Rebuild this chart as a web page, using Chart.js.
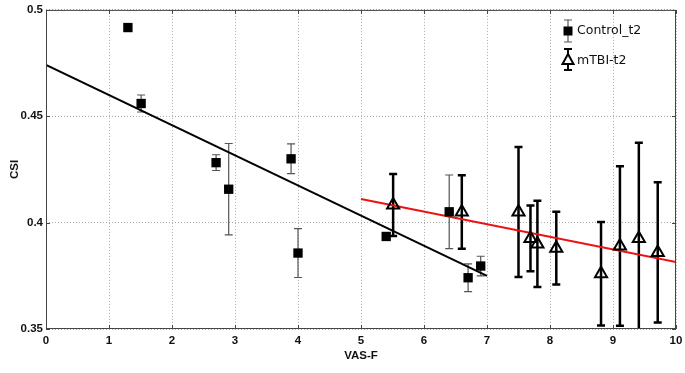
<!DOCTYPE html>
<html>
<head>
<meta charset="utf-8">
<script src="https://cdn.jsdelivr.net/npm/chart.js@4"></script>
<style>
  html, body { margin: 0; padding: 0; background: #fff; }
  #wrap { width: 685px; height: 373px; }
</style>
</head>
<body>
<div id="wrap"><canvas id="csiChart" width="685" height="373"></canvas></div>
<script>
// Control_t2 (filled squares, thin gray error bars)
const controlX = [1.30, 1.51, 2.70, 2.90, 3.89, 4.00, 5.40, 6.40, 6.70, 6.90];
const controlY = [0.4917, 0.456, 0.4282, 0.4157, 0.430, 0.3857, 0.3935, 0.4051, 0.3741, 0.3796];
const controlErr = [0, 0.004, 0.0037, 0.0215, 0.007, 0.0115, 0, 0.0173, 0.0065, 0.0046];

// mTBI-t2 (open triangles, thick black error bars)
const mtbiX = [5.51, 6.60, 7.50, 7.69, 7.80, 8.10, 8.81, 9.11, 9.41, 9.71];
const mtbiY = [0.4083, 0.405, 0.405, 0.3926, 0.390, 0.388, 0.376, 0.389, 0.3926, 0.386];
const mtbiErr = [0.0146, 0.0173, 0.0305, 0.0155, 0.0203, 0.0171, 0.0243, 0.0375, 0.045, 0.033];

// fitted lines (end points)
const controlFitX = [0, 7];
const controlFitY = [0.4741, 0.375];
const mtbiFitX = [5, 10];
const mtbiFitY = [0.4111, 0.3815];

const xTicks = [0, 1, 2, 3, 4, 5, 6, 7, 8, 9, 10];
const yTicks = [0.35, 0.4, 0.45, 0.5];
const yTickLabels = ["0.35", "0.4", "0.45", "0.5"];

function toPoints(xs, ys) {
  return xs.map((x, i) => ({ x: x, y: ys[i] }));
}

const tickFont = { family: "'Liberation Sans', Arial, sans-serif", size: 11.5, weight: "bold" };

// error bars, frame, small tick marks and legend
const errorBarPlugin = {
  id: "errorBars",
  beforeDatasetsDraw(chart) {
    const ctx = chart.ctx;
    const xs = chart.scales.x;
    const ys = chart.scales.y;
    const area = chart.chartArea;
    ctx.save();
    ctx.beginPath();
    ctx.rect(area.left, area.top, area.right - area.left, area.bottom - area.top);
    ctx.clip();

    function bars(xv, yv, ev, color, width, cap) {
      ctx.strokeStyle = color;
      ctx.lineWidth = width;
      xv.forEach((x, i) => {
        if (!ev[i]) return;
        const px = xs.getPixelForValue(x);
        const top = ys.getPixelForValue(yv[i] + ev[i]);
        const bot = ys.getPixelForValue(yv[i] - ev[i]);
        ctx.beginPath();
        ctx.moveTo(px, top); ctx.lineTo(px, bot);
        ctx.moveTo(px - cap, top); ctx.lineTo(px + cap, top);
        ctx.moveTo(px - cap, bot); ctx.lineTo(px + cap, bot);
        ctx.stroke();
      });
    }
    bars(controlX, controlY, controlErr, "#555", 1.2, 4);
    bars(mtbiX, mtbiY, mtbiErr, "#000", 2.5, 4);
    ctx.restore();
  },
  afterDraw(chart) {
    const ctx = chart.ctx;
    const area = chart.chartArea;
    const xs = chart.scales.x;
    const ys = chart.scales.y;
    ctx.save();
    // frame
    ctx.strokeStyle = "#444";
    ctx.lineWidth = 1;
    ctx.strokeRect(area.left + 0.5, area.top + 0.5, area.right - area.left - 1, area.bottom - area.top - 1);
    // inward tick marks
    ctx.beginPath();
    xTicks.forEach(v => {
      const px = Math.round(xs.getPixelForValue(v)) + 0.5;
      ctx.moveTo(px, area.bottom); ctx.lineTo(px, area.bottom - 4);
      ctx.moveTo(px, area.top); ctx.lineTo(px, area.top + 4);
    });
    yTicks.forEach(v => {
      const py = Math.round(ys.getPixelForValue(v)) + 0.5;
      ctx.moveTo(area.left, py); ctx.lineTo(area.left + 4, py);
      ctx.moveTo(area.right, py); ctx.lineTo(area.right - 4, py);
    });
    ctx.stroke();

    // legend
    const lx = 568;
    ctx.font = "12.5px 'DejaVu Sans', sans-serif";
    ctx.textBaseline = "middle";

    // Control_t2 entry
    ctx.strokeStyle = "#555";
    ctx.lineWidth = 1.2;
    ctx.beginPath();
    ctx.moveTo(lx, 20); ctx.lineTo(lx, 42);
    ctx.moveTo(lx - 4, 20); ctx.lineTo(lx + 4, 20);
    ctx.moveTo(lx - 4, 42); ctx.lineTo(lx + 4, 42);
    ctx.stroke();
    ctx.fillStyle = "#000";
    ctx.fillRect(lx - 4.5, 26.5, 9, 9);
    ctx.fillStyle = "#111";
    ctx.fillText("Control_t2", lx + 9, 31);

    // mTBI-t2 entry
    ctx.strokeStyle = "#000";
    ctx.lineWidth = 2;
    ctx.beginPath();
    ctx.moveTo(lx, 49); ctx.lineTo(lx, 70);
    ctx.moveTo(lx - 4, 49); ctx.lineTo(lx + 4, 49);
    ctx.moveTo(lx - 4, 70); ctx.lineTo(lx + 4, 70);
    ctx.stroke();
    ctx.beginPath();
    ctx.moveTo(lx, 54);
    ctx.lineTo(lx + 5.5, 64);
    ctx.lineTo(lx - 5.5, 64);
    ctx.closePath();
    ctx.fillStyle = "#fff";
    ctx.fill();
    ctx.stroke();
    ctx.fillStyle = "#111";
    ctx.fillText("mTBI-t2", lx + 9, 61);
    ctx.restore();
  }
};

new Chart(document.getElementById("csiChart"), {
  type: "scatter",
  data: {
    datasets: [
      {
        label: "Control fit",
        data: toPoints(controlFitX, controlFitY),
        showLine: true,
        borderColor: "#000",
        borderWidth: 2,
        pointRadius: 0,
        order: 3
      },
      {
        label: "mTBI fit",
        data: toPoints(mtbiFitX, mtbiFitY),
        showLine: true,
        borderColor: "#ee1111",
        borderWidth: 2,
        pointRadius: 0,
        order: 3
      },
      {
        label: "Control_t2",
        data: toPoints(controlX, controlY),
        pointStyle: "rect",
        pointRadius: 6.6,
        backgroundColor: "#000",
        borderColor: "#000",
        borderWidth: 0,
        order: 1
      },
      {
        label: "mTBI-t2",
        data: toPoints(mtbiX, mtbiY),
        pointStyle: "triangle",
        pointRadius: 7,
        backgroundColor: "rgba(255,255,255,0)",
        borderColor: "#000",
        borderWidth: 2,
        order: 1
      }
    ]
  },
  options: {
    responsive: false,
    animation: false,
    layout: { padding: { left: 0, right: 0, top: 5, bottom: 0 } },
    plugins: {
      legend: { display: false },
      tooltip: { enabled: false }
    },
    scales: {
      x: {
        type: "linear",
        min: 0,
        max: 10,
        afterBuildTicks: (scale) => { scale.ticks = xTicks.map(v => ({ value: v })); },
        afterFit: (scale) => { scale.height = 44; scale.paddingRight = 9; },
        ticks: { font: tickFont, color: "#111", padding: 5 },
        grid: { color: "#aaa", lineWidth: 1, drawTicks: false },
        border: { display: false, dash: [1, 2] },
        title: {
          display: true,
          text: "VAS-F",
          font: tickFont,
          color: "#111",
          padding: { top: 0, bottom: 10 }
        }
      },
      y: {
        type: "linear",
        min: 0.35,
        max: 0.5,
        afterBuildTicks: (scale) => { scale.ticks = yTicks.map(v => ({ value: v })); },
        afterFit: (scale) => { scale.width = 46; },
        ticks: {
          font: tickFont,
          color: "#111",
          padding: 3,
          callback: (value, index) => yTickLabels[index]
        },
        grid: { color: "#aaa", lineWidth: 1, drawTicks: false },
        border: { display: false, dash: [1, 2] },
        title: {
          display: true,
          text: "CSI",
          font: tickFont,
          color: "#111",
          padding: { top: 8, bottom: 0 }
        }
      }
    }
  },
  plugins: [errorBarPlugin]
});
</script>
</body>
</html>
